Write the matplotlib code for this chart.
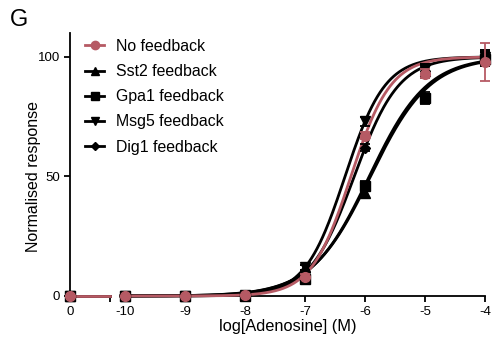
import numpy as np
import matplotlib
matplotlib.use("Agg")
import matplotlib.pyplot as plt

plt.rcParams['font.family'] = ['Liberation Sans', 'DejaVu Sans']

# Concentrations (log M); the control (no adenosine) is plotted separately at "0"
log_conc = [-10, -9, -8, -7, -6, -5, -4]
series = ["No feedback", "Sst2 feedback", "Gpa1 feedback", "Msg5 feedback", "Dig1 feedback"]

# Mean normalised responses: control first, then each concentration
no_feedback = [0, 0, 0, 0.5, 8, 67, 93, 98]
sst2 = [0, 0, 0, 0.3, 12, 43, 94, 99]
gpa1 = [0, 0, 0, 0.2, 7, 46, 83, 99]
msg5 = [0, 0, 0, 0.5, 12, 73, 95, 100]
dig1 = [0, 0, 0, 0.5, 10, 62, 94, 100]

# Error bars (SEM)
no_feedback_err = [0, 0, 0, 0, 1, 1.5, 2, 8]
sst2_err = [0, 0, 0, 0, 1, 1.5, 3, 3]
gpa1_err = [0, 0, 0, 0, 1, 2, 2.5, 3]
msg5_err = [0, 0, 0, 0, 1, 2, 2, 3]
dig1_err = [0, 0, 0, 0, 1, 1.5, 2, 3]

# Fitted Hill curves: log EC50 and Hill slope
log_ec50 = [-6.235, -5.93, -5.91, -6.333, -6.18]
hill_slope = [1.31, 0.9, 0.88, 1.30, 1.17]
bottom = [0, 0, 0, 0, 0]
top = [100, 100, 100, 100, 100]

red = "#b65a64"
colors = [red, "black", "black", "black", "black"]
markers = ["o", "^", "s", "v", "D"]
msizes = [7, 7, 6.5, 7, 5]
values = [no_feedback, sst2, gpa1, msg5, dig1]
errors = [no_feedback_err, sst2_err, gpa1_err, msg5_err, dig1_err]

W, H = 499, 347
fig = plt.figure(figsize=(W / 100, H / 100), dpi=100)

y0, y1 = 296, 33
ax1 = fig.add_axes([70 / W, (H - y0) / H, 40 / W, (y0 - y1) / H])
ax2 = fig.add_axes([121 / W, (H - y0) / H, 364 / W, (y0 - y1) / H])

for ax in (ax1, ax2):
    ax.set_ylim(0, 110)
    for s in ("top", "right"):
        ax.spines[s].set_visible(False)
    ax.spines["bottom"].set_linewidth(1.3)
    ax.spines["left"].set_linewidth(1.3)
    ax.tick_params(width=1.3, length=4.5, labelsize=9.5, pad=2.5)
    ax.patch.set_alpha(0)

ax2.spines["left"].set_visible(False)
ax2.tick_params(axis="y", left=False, labelleft=False)

ax1.set_xlim(0, 1)
ax1.set_xticks([0, 1])
ax1.set_xticklabels(["0", ""])
ax1.set_yticks([0, 50, 100])

ax2.set_xlim(-10.067, -4)
ax2.set_xticks(log_conc)
ax2.set_xticklabels([str(v) for v in log_conc])

xf = np.linspace(-10.067, -4, 400)
draw_order = [1, 2, 3, 4, 0]
handles = {}
for i in draw_order:
    c = colors[i]
    yfit = bottom[i] + (top[i] - bottom[i]) / (1 + 10 ** ((log_ec50[i] - xf) * hill_slope[i]))
    ax2.plot(xf, yfit, color=c, lw=2.0, zorder=3 if i else 4, clip_on=False)
    ax1.plot([0, 1], [bottom[i]] * 2, color=c, lw=2.0, zorder=3 if i else 4, clip_on=False)
    ax2.errorbar(log_conc, values[i][1:], yerr=errors[i][1:], fmt=markers[i], color=c,
                 ms=msizes[i], capsize=3.5, elinewidth=1.3, capthick=1.3,
                 zorder=5 if i else 6, clip_on=False)
    ax1.errorbar([0], values[i][:1], yerr=errors[i][:1], fmt=markers[i], color=c,
                 ms=msizes[i], zorder=5 if i else 6, clip_on=False)
    handles[i] = plt.Line2D([], [], color=c, lw=2.0, marker=markers[i], ms=msizes[i] - 1)

ax2.legend([handles[i] for i in range(5)], series, loc="upper left",
           bbox_to_anchor=(85 / W, 1 - 39 / H), bbox_transform=fig.transFigure,
           frameon=False, fontsize=11.4, handlelength=1.2, handletextpad=0.75,
           labelspacing=0.64, borderpad=0, borderaxespad=0)

# y-axis title centred on the 0–100 range
fig.text(34 / W, 1 - 176 / H, "Normalised response", rotation=90,
         ha="center", va="center", fontsize=11.5)
fig.text(0.5 * (121 + 485) / W - 0.03, 1 - 327 / H, "log[Adenosine] (M)",
         ha="center", va="center", fontsize=11.8)
fig.text(10 / W, 1 - 20 / H, "G", fontsize=17, ha="left", va="center")

fig.savefig("out.png", dpi=100)
